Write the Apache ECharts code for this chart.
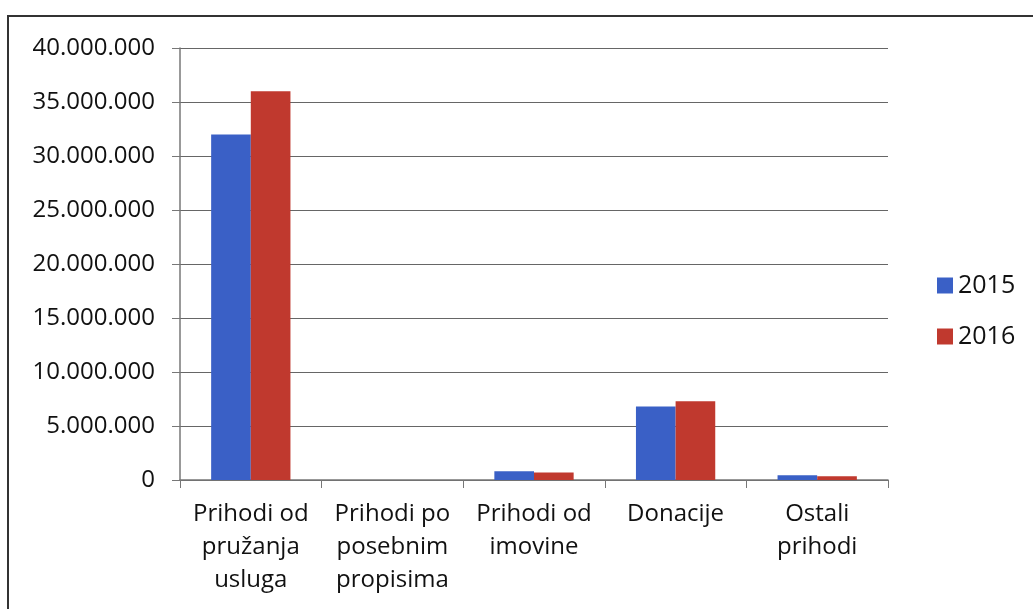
<!DOCTYPE html>
<html><head><meta charset="utf-8">
<script src="https://cdn.jsdelivr.net/npm/echarts@6/dist/echarts.min.js"></script>
<style>html,body{margin:0;padding:0;background:#fff}#c{width:1033px;height:609px}</style>
</head><body><div id="c"></div>
<script>
const categories = ["Prihodi od\npružanja\nusluga", "Prihodi po\nposebnim\npropisima", "Prihodi od\nimovine", "Donacije", "Ostali\nprihodi"];
const values2015 = [32000000, 0, 800000, 6800000, 450000];
const values2016 = [36000000, 0, 700000, 7300000, 350000];
const yTicks = [0, 5000000, 10000000, 15000000, 20000000, 25000000, 30000000, 35000000, 40000000];

const fmt = v => v === 0 ? '0' : String(v).replace(/\B(?=(\d{3})+(?!\d))/g, '.');
const FF = '"Open Sans", sans-serif';
const chart = echarts.init(document.getElementById('c'));
chart.setOption({
  animation: false,
  textStyle: { fontFamily: FF },
  graphic: [{ type: 'rect', shape: { x: 8, y: 16, width: 1030, height: 600 }, style: { fill: 'none', stroke: '#333', lineWidth: 2 } }],
  grid: { left: 180, right: 145, top: 48, bottom: 129 },
  legend: {
    orient: 'vertical', left: 932, top: 268, itemGap: 26, itemWidth: 16, itemHeight: 16,
    icon: 'rect', textStyle: { fontSize: 25, color: '#111', fontFamily: FF },
    data: ['2015', '2016']
  },
  xAxis: {
    type: 'category', data: categories,
    axisLine: { lineStyle: { color: '#777', width: 1.5 } },
    axisTick: { show: true, length: 8, lineStyle: { color: '#777' } },
    axisLabel: { fontSize: 24, color: '#111', lineHeight: 33, margin: 18, interval: 0, fontFamily: FF }
  },
  yAxis: {
    type: 'value', min: yTicks[0], max: yTicks[yTicks.length - 1], interval: 5000000,
    axisLine: { show: true, lineStyle: { color: '#777', width: 1.5 } },
    axisTick: { show: true, length: 8, lineStyle: { color: '#777' } },
    splitLine: { lineStyle: { color: '#666', width: 1.2 } },
    axisLabel: { fontSize: 24, color: '#111', margin: 25, formatter: fmt, fontFamily: FF }
  },
  series: [
    { name: '2015', type: 'bar', data: values2015, barWidth: '28%', barGap: '0%', itemStyle: { color: '#3a60c6' } },
    { name: '2016', type: 'bar', data: values2016, barWidth: '28%', itemStyle: { color: '#c0392e' } }
  ]
});
</script></body></html>
